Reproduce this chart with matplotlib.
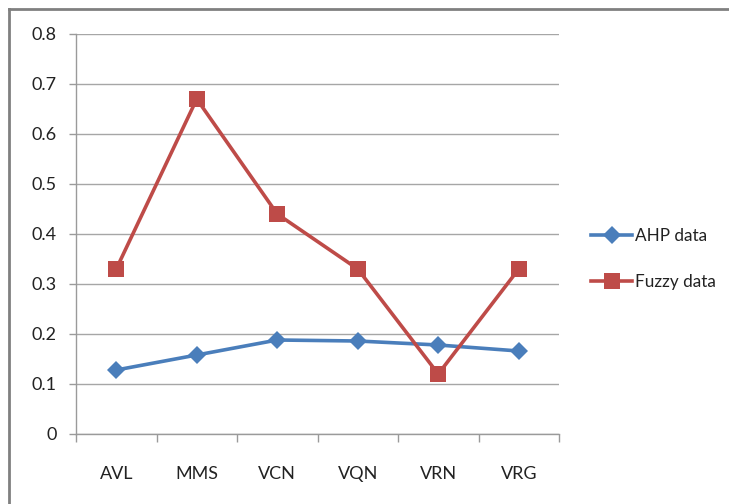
import matplotlib
matplotlib.use("Agg")
import matplotlib.pyplot as plt
from matplotlib.lines import Line2D
import numpy as np

categories = ["AVL", "MMS", "VCN", "VQN", "VRN", "VRG"]
ahp = [0.128, 0.158, 0.188, 0.186, 0.178, 0.166]
fuzzy = [0.33, 0.67, 0.44, 0.33, 0.12, 0.33]
yticks = [0, 0.1, 0.2, 0.3, 0.4, 0.5, 0.6, 0.7, 0.8]
ytick_labels = ["0", "0.1", "0.2", "0.3", "0.4", "0.5", "0.6", "0.7", "0.8"]

plt.rcParams['font.family'] = ['Lato', 'DejaVu Sans']

W, H = 729, 504
fig = plt.figure(figsize=(W / 100, H / 100), dpi=100)
ax = fig.add_axes([76 / W, (H - 434) / H, (559 - 76) / W, (434 - 34) / H])

x = np.arange(len(categories))
blue = "#4A7EBB"
red = "#BE4B48"
ax.plot(x, ahp, color=blue, lw=2.6, marker="D", ms=9, markeredgewidth=0, label="AHP data", zorder=3)
ax.plot(x, fuzzy, color=red, lw=2.6, marker="s", ms=11.5, markeredgewidth=0, label="Fuzzy data", zorder=4)

fs = 13
ax.set_xlim(-0.5, len(categories) - 0.5)
ax.set_ylim(0, 0.8)
ax.set_yticks(yticks)
ax.set_yticklabels(ytick_labels, fontsize=fs, color="#222222")
ax.set_xticks(x)
ax.set_xticklabels(categories, fontsize=fs, color="#222222")
ax.set_xticks(np.arange(-0.5, len(categories), 1.0), minor=True)
ax.tick_params(axis="x", which="major", length=0, pad=23)
ax.tick_params(axis="x", which="minor", length=6, color="#9a9a9a", width=1)
ax.tick_params(axis="y", length=5, color="#9a9a9a", width=1, pad=9)
ax.grid(axis="y", color="#a6a6a6", lw=1)
ax.set_axisbelow(True)
for s in ["top", "right"]:
    ax.spines[s].set_visible(False)
for s in ["left", "bottom"]:
    ax.spines[s].set_color("#9a9a9a")
    ax.spines[s].set_linewidth(1)

leg = fig.legend(loc="center left", bbox_to_anchor=(576 / W, 1 - 259 / H), frameon=False,
                 fontsize=12.3, handlelength=2.4, handletextpad=0.15, labelspacing=1.7)
for t in leg.get_texts():
    t.set_color("#222222")

# outer chart border (top and left visible)
fig.add_artist(Line2D([9 / W, 1], [1 - 9 / H, 1 - 9 / H], transform=fig.transFigure, color="#808080", lw=2))
fig.add_artist(Line2D([9 / W, 9 / W], [0, 1 - 9 / H], transform=fig.transFigure, color="#808080", lw=2))

fig.savefig("out.png", dpi=100)
